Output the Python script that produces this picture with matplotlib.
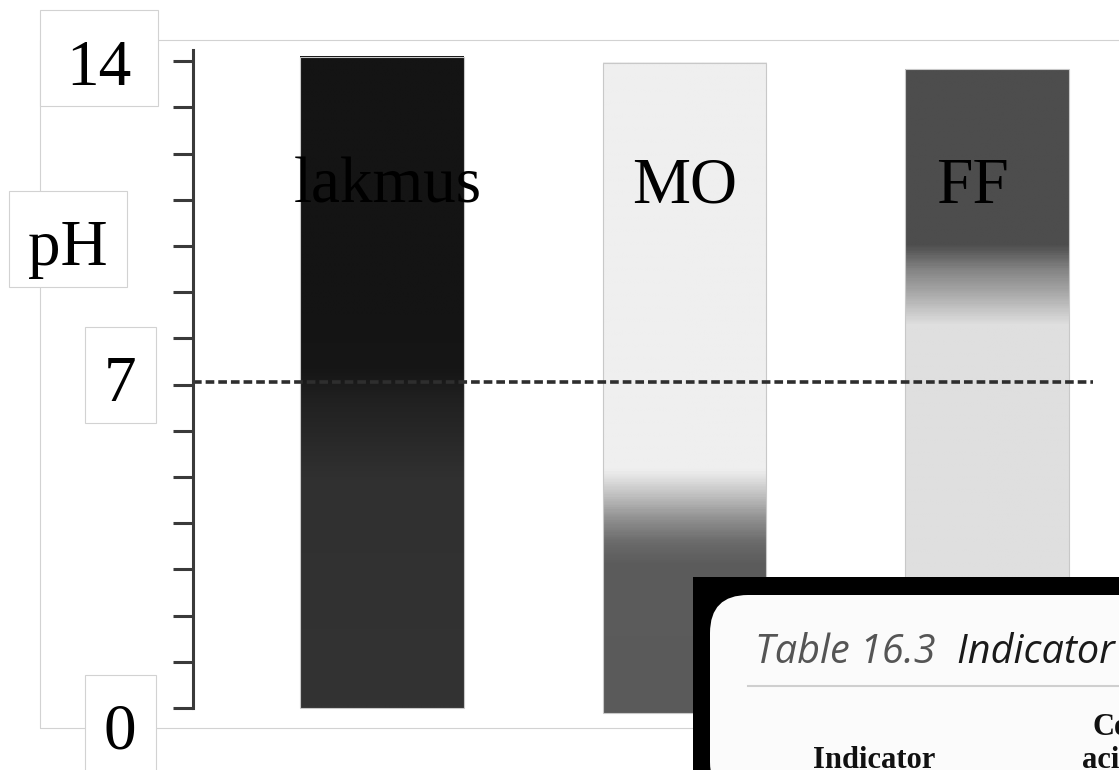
import numpy as np
import matplotlib
matplotlib.use("Agg")
import matplotlib.pyplot as plt
from matplotlib.colors import LinearSegmentedColormap
from matplotlib.patches import Rectangle, FancyBboxPatch

# indicators and their colour strips (pH, grey level 0-255)
indicators = ['lakmus', 'MO', 'FF']
strip_bottom = [0.0, -0.11, -0.3]
strip_top = [14.09, 13.96, 13.83]
lakmus_stops = [(0, 0x33), (5.0, 0x30), (6.7, 0x20), (7.3, 0x16), (8.5, 0x14), (14.09, 0x14)]
mo_stops = [(-0.11, 0x5a), (3.1, 0x5c), (3.55, 0x6a), (4.07, 0x90), (4.5, 0xb8), (4.95, 0xe0), (5.15, 0xef), (13.96, 0xef)]
ff_stops = [(-0.3, 0xdf), (8.3, 0xdf), (8.6, 0xc8), (9.05, 0xa4), (9.5, 0x84), (9.8, 0x66), (10.05, 0x4d), (13.83, 0x4d)]
all_stops = [lakmus_stops, mo_stops, ff_stops]
label_x = [0.02, 0.0, -0.05]

ph_ticks = list(range(0, 15))
neutral_ph = 7
scale_labels = ['14', 'pH', '7', '0']

fig = plt.figure(figsize=(11.19, 7.70), dpi=100)
W, H = 1119, 770


def inch(x, y):
    return (x / 100, (H - y) / 100)


# thin grey frame behind everything
fig.add_artist(Rectangle(inch(40, 728), 11.0, 6.88, transform=fig.dpi_scale_trans,
                         fill=False, ec='#d2d2d2', lw=0.8, zorder=-2))

ax = fig.add_axes([193 / W, (H - 708) / H, 1 - 193 / W, 658 / H])
ax.set_facecolor('none')

width = 0.54
for i, name in enumerate(indicators):
    lo, hi = strip_bottom[i], strip_top[i]
    stops = all_stops[i]
    cmap = LinearSegmentedColormap.from_list(
        name, [((p - lo) / (hi - lo), str(g / 255)) for p, g in stops])
    ramp = np.linspace(0, 1, 600)[:, None]
    ax.imshow(ramp, cmap=cmap, vmin=0, vmax=1, origin='lower', aspect='auto',
              extent=[i - width / 2, i + width / 2, lo, hi], clip_on=False,
              interpolation='bilinear', zorder=1)
    ax.add_patch(Rectangle((i - width / 2, lo), width, hi - lo, fill=False,
                           ec='#c8c8c8', lw=0.8, clip_on=False, zorder=1.5))
    ax.text(i + label_x[i], 10.93, name, ha='center', va='baseline',
            fontsize=47, family='Liberation Serif', color='black', zorder=3)

ax.plot([-0.625, 2.35], [neutral_ph + 0.05] * 2, ls=(0, (2.4, 1.1)), color='#2e2e2e',
        lw=2.6, zorder=2, clip_on=False)

ax.set_xticks([])
ax.set_yticks(ph_ticks)
ax.set_yticklabels([])
ax.tick_params(axis='y', length=14.4, width=2.2, color='#3a3a3a', direction='out')
for s in ['top', 'right', 'bottom']:
    ax.spines[s].set_visible(False)
ax.spines['left'].set_color('#3a3a3a')
ax.spines['left'].set_linewidth(2.2)
ax.set_xlim(-0.625, 2.436)
ax.set_ylim(0, 14.24)

# boxed scale labels
boxes = [(40, 10, 118, 96), (9, 191, 118, 96), (85, 327, 71, 96), (85, 675, 71, 110)]
centers = [(99, 62), (68, 242), (120, 378), (120, 726)]
for lab, (bx, by, bw, bh), (cx, cy) in zip(scale_labels, boxes, centers):
    fig.add_artist(Rectangle(inch(bx, by + bh), bw / 100, bh / 100,
                             transform=fig.dpi_scale_trans, fc='white',
                             ec='#d2d2d2', lw=0.8, zorder=-1))
    fig.text(*inch(cx, cy), lab, transform=fig.dpi_scale_trans, ha='center',
             va='center_baseline', fontsize=47, family='Liberation Serif', zorder=4)

# inset picture of a table
fig.add_artist(Rectangle(inch(693, 790), 5.0, 2.13, transform=fig.dpi_scale_trans,
                         fc='black', ec='none', zorder=5))
fig.add_artist(FancyBboxPatch(inch(710, 800), 5.0, 2.05, transform=fig.dpi_scale_trans,
                              boxstyle='round,pad=0,rounding_size=0.38',
                              fc='#fbfbfb', ec='none', zorder=6))
fig.add_artist(plt.Line2D([7.48, 11.3], [(H - 686) / 100] * 2, transform=fig.dpi_scale_trans,
                          color='#cfcfcf', lw=1.5, zorder=7))
fig.text(*inch(755, 663), 'Table 16.3', transform=fig.dpi_scale_trans, fontsize=28.5,
         family='Open Sans', style='italic', color='#555555', va='baseline', zorder=8)
fig.text(*inch(957, 663), 'Indicator c', transform=fig.dpi_scale_trans, fontsize=28.5,
         family='Open Sans', style='italic', color='#1a1a1a', va='baseline', zorder=8)
fig.text(*inch(1093, 735), 'Co', transform=fig.dpi_scale_trans, fontsize=22,
         family='Liberation Serif', weight='bold', color='#111111', va='baseline', zorder=8)
fig.text(*inch(813, 768), 'Indicator', transform=fig.dpi_scale_trans, fontsize=22,
         family='Liberation Serif', weight='bold', color='#111111', va='baseline', zorder=8)
fig.text(*inch(1082, 768), 'aci', transform=fig.dpi_scale_trans, fontsize=22,
         family='Liberation Serif', weight='bold', color='#111111', va='baseline', zorder=8)

fig.savefig('out.png', dpi=100)
